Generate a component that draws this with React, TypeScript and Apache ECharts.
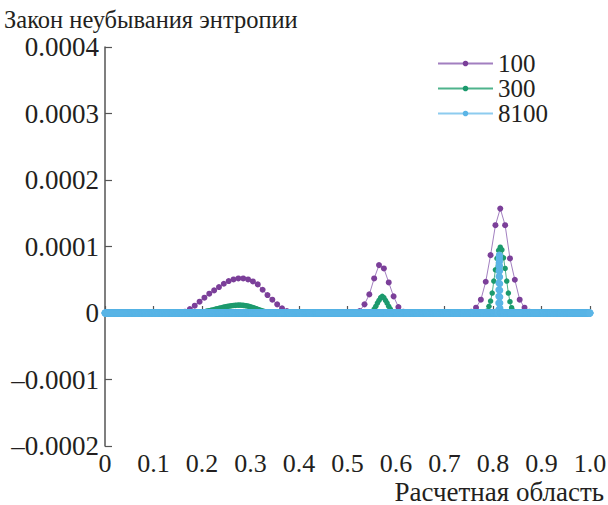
import React, { useEffect, useRef } from "react";
import * as echarts from "echarts";

// Legend names and the number of cells in each computation
const seriesNames = ["100", "300", "8100"];
const gridSizes = [100, 300, 8100];

// Entropy production per cell, in units of 1e-5; cells not listed are zero.
// Each stretch gives the index of its first cell and the successive values.
const profile100 = [
  {
    start: 16,
    values: [0.2, 0.6, 1.1, 1.7, 2.3, 2.9, 3.4, 3.9, 4.4, 4.8, 5.05, 5.2, 5.2, 5.05, 4.75, 4.3, 3.5, 2.7, 2.0, 1.3, 0.7, 0.3, 0.05],
  },
  { start: 52, values: [0.3, 1.3, 2.8, 5.2, 7.2, 6.7, 4.6, 2.5, 0.9, 0.2] },
  { start: 75, values: [0.2, 0.8, 2.0, 4.7, 8.7, 13.2, 15.7, 13.2, 8.2, 5.0, 2.0, 0.8, 0.2, 0.05] },
];

const profile300 = [
  {
    start: 58,
    values: [
      0.05, 0.1, 0.15, 0.2, 0.25, 0.3, 0.35, 0.4, 0.46, 0.52, 0.58, 0.64, 0.7, 0.76, 0.82, 0.88, 0.93, 0.98, 1.02, 1.06,
      1.1, 1.13, 1.15, 1.17, 1.18, 1.18, 1.17, 1.15, 1.12, 1.08, 1.03, 0.97, 0.9, 0.82, 0.74, 0.65, 0.56, 0.47, 0.39, 0.31,
      0.24, 0.17, 0.11, 0.06, 0.02,
    ],
  },
  { start: 165, values: [0.2, 0.6, 1.0, 1.5, 1.9, 2.3, 2.5, 2.3, 1.9, 1.5, 1.0, 0.6, 0.25, 0.05] },
  { start: 236, values: [0.3, 1.0, 1.8, 3.0, 4.8, 6.5, 8.2, 9.4, 9.9, 9.5, 8.3, 6.7, 4.8, 3.0, 1.7, 0.8, 0.3] },
];

const profile8100 = [
  {
    start: 6574,
    values: [0.5, 1.5, 2.5, 3.5, 4.5, 5.5, 6.3, 7.0, 7.6, 8.1, 8.5, 8.7, 8.6, 8.3, 7.8, 7.1, 6.3, 5.4, 4.4, 3.4, 2.4, 1.5, 0.7, 0.2],
  },
];

const profiles = [profile100, profile300, profile8100];

const xTickLabels = ["0", "0.1", "0.2", "0.3", "0.4", "0.5", "0.6", "0.7", "0.8", "0.9", "1.0"];
const yTickLabels = ["\u20130.0002", "\u20130.0001", "0", "0.0001", "0.0002", "0.0003", "0.0004"];

const X_MIN = 0;
const X_STEP = 0.1;
const Y_MIN = -0.0002;
const Y_STEP = 0.0001;

const markerColors = ["#7b3f99", "#1c9a6d", "#5bb5e6"];
const lineColors = ["#a27fc0", "#4fb38c", "#8dccef"];
const symbolSizes = [6, 5.5, 7];

const FONT = "Liberation Serif";
const TEXT = "#231f20";
const AXIS = "#555555";

type Stretch = { start: number; values: number[] };

// Cell-centred points over [0, 1] for a grid of n cells
function cellPoints(n: number, stretches: Stretch[]): [number, number][] {
  const ys: number[] = new Array(n).fill(0);
  stretches.forEach((s) => {
    s.values.forEach((v, k) => {
      ys[s.start + k] = v * 1e-5;
    });
  });
  return ys.map((y, i) => [(i + 0.5) / n, y]);
}

export default function App() {
  const ref = useRef<HTMLDivElement>(null);

  useEffect(() => {
    if (!ref.current) return;
    const chart = echarts.init(ref.current, undefined, { renderer: "svg" });

    const series = seriesNames.map((name, s) => ({
      name,
      type: "line",
      data: cellPoints(gridSizes[s], profiles[s]),
      symbol: "circle",
      symbolSize: symbolSizes[s],
      showAllSymbol: true,
      clip: false,
      silent: true,
      itemStyle: { color: markerColors[s] },
      lineStyle: { color: lineColors[s], width: 1 },
      emphasis: { disabled: true },
    }));

    chart.setOption({
      animation: false,
      textStyle: { fontFamily: FONT },
      legend: {
        orient: "vertical",
        left: 437,
        top: 51,
        itemWidth: 55,
        itemHeight: 7,
        itemGap: 0,
        padding: 0,
        selectedMode: false,
        textStyle: { fontFamily: FONT, fontSize: 25, color: TEXT },
        data: seriesNames,
      },
      grid: { left: 105, right: 18, top: 47, bottom: 59, containLabel: false, outerBoundsMode: "none" },
      xAxis: {
        type: "value",
        min: X_MIN,
        max: 1,
        interval: X_STEP,
        splitLine: { show: false },
        axisLine: { lineStyle: { color: AXIS, width: 1.5 } },
        axisTick: { inside: true, length: 7, lineStyle: { color: AXIS, width: 1.2 } },
        axisLabel: {
          margin: 6,
          fontFamily: FONT,
          fontSize: 26,
          lineHeight: 22,
          color: TEXT,
          formatter: (v: number) => xTickLabels[Math.round((v - X_MIN) / X_STEP)] ?? "",
        },
      },
      yAxis: {
        type: "value",
        min: Y_MIN,
        max: 0.0004,
        interval: Y_STEP,
        splitLine: { show: false },
        axisLine: { show: true, lineStyle: { color: AXIS, width: 1.5 } },
        axisTick: { show: true, inside: true, length: 7, lineStyle: { color: AXIS, width: 1.2 } },
        axisLabel: {
          margin: 6,
          fontFamily: FONT,
          fontSize: 27,
          color: TEXT,
          formatter: (v: number) => yTickLabels[Math.round((v - Y_MIN) / Y_STEP)] ?? "",
        },
      },
      graphic: [
        {
          type: "text",
          left: 4,
          top: 7,
          style: { text: "Закон неубывания энтропии", fontFamily: FONT, fontSize: 24.5, fill: TEXT },
        },
        {
          type: "text",
          right: 4,
          top: 478,
          style: { text: "Расчетная область", fontFamily: FONT, fontSize: 27, fill: TEXT },
        },
      ],
      series,
    });

    return () => chart.dispose();
  }, []);

  return <div ref={ref} style={{ position: "absolute", left: 0, top: 0, width: 608, height: 505 }} />;
}
